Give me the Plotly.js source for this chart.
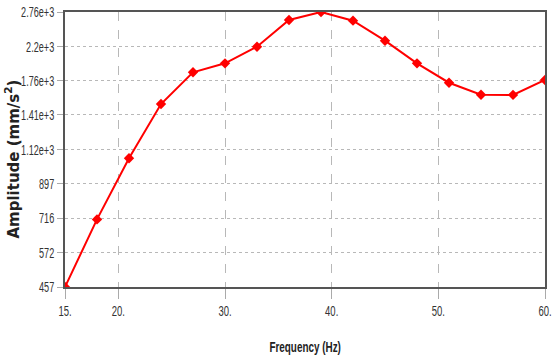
<!DOCTYPE html>
<html><head><meta charset="utf-8">
<script src="https://cdn.plot.ly/plotly-3.0.1.min.js"></script>
<style>body{margin:0;background:#fff}#c{width:557px;height:358px}</style>
</head><body><div id="c"></div>
<script>
const frequency = [15, 18, 21, 24, 27, 30, 33, 36, 39, 42, 45, 48, 51, 54, 57, 60];
const amplitude = [457, 711, 1061, 1512, 1861, 1973, 2200, 2620, 2760, 2608, 2288, 1973, 1738, 1607, 1605, 1769];
const yTickVals = [457, 572, 716, 897, 1120, 1410, 1760, 2200, 2760];
const yTickText = ['457', '572', '716', '897', '1.12e+3', '1.41e+3', '1.76e+3', '2.2e+3', '2.76e+3'];
const xTickVals = [15, 20, 30, 40, 50, 60];
const xTickText = ['15.', '20.', '30.', '40.', '50.', '60.'];
const xTitle = 'Frequency (Hz)';
const yTitle = 'Amplitude (mm/s<sup>2</sup>)';

const sans = 'Liberation Sans, Arial, sans-serif';
Plotly.newPlot('c', [{
  x: frequency, y: amplitude, type: 'scatter', mode: 'lines+markers',
  line: {color: '#ff0000', width: 2},
  marker: {color: '#ff0000', size: 8, symbol: 'diamond'}
}], {
  width: 557, height: 358,
  margin: {l: 65, r: 12, t: 12, b: 71},
  paper_bgcolor: '#fff', plot_bgcolor: '#fff',
  showlegend: false,
  xaxis: {
    range: [15, 60], tickvals: xTickVals, ticktext: xTickText,
    ticks: 'outside', ticklen: 10, tickcolor: '#aaa', tickwidth: 1,
    showgrid: true, gridcolor: '#b8b8b8', griddash: 'dash', gridwidth: 1,
    showline: true, linecolor: '#555', linewidth: 2, mirror: true,
    zeroline: false, automargin: false,
    tickfont: {family: sans, size: 14, color: '#333'}
  },
  yaxis: {
    type: 'log', range: [Math.log10(457), Math.log10(2760)],
    tickvals: yTickVals, ticktext: yTickText,
    ticks: 'outside', ticklen: 6, tickcolor: '#aaa', tickwidth: 1,
    showgrid: true, gridcolor: '#b8b8b8', griddash: 'dot', gridwidth: 1,
    showline: true, linecolor: '#555', linewidth: 2, mirror: true,
    zeroline: false, automargin: false,
    tickfont: {family: sans, size: 14, color: '#333'}
  },
  annotations: [
    {text: xTitle, xref: 'paper', yref: 'paper', x: 0.5, y: (287 - 346) / 275,
     xanchor: 'center', yanchor: 'middle', showarrow: false,
     font: {family: sans, size: 15, color: '#222', weight: 'bold'}},
    {text: yTitle, xref: 'paper', yref: 'paper', x: (12 - 65) / 480, y: 0.5 - 10 / 275,
     xanchor: 'center', yanchor: 'middle', showarrow: false, textangle: -90,
     font: {family: 'DejaVu Sans, sans-serif', size: 15, color: '#222', weight: 'bold'}}
  ]
}, {displayModeBar: false, staticPlot: true}).then(function () {
  function squeeze(t, f) {
    const w = t.getComputedTextLength();
    t.setAttribute('textLength', (w * f).toFixed(1));
    t.setAttribute('lengthAdjust', 'spacingAndGlyphs');
  }
  document.querySelectorAll('.ytick text').forEach(function (t) { squeeze(t, 0.65); });
  document.querySelectorAll('.xtick text').forEach(function (t) { squeeze(t, 0.68); });
  document.querySelectorAll('.annotation-text').forEach(function (t, i) {
    if (i === 0) squeeze(t, 0.66);
  });
});
</script></body></html>
